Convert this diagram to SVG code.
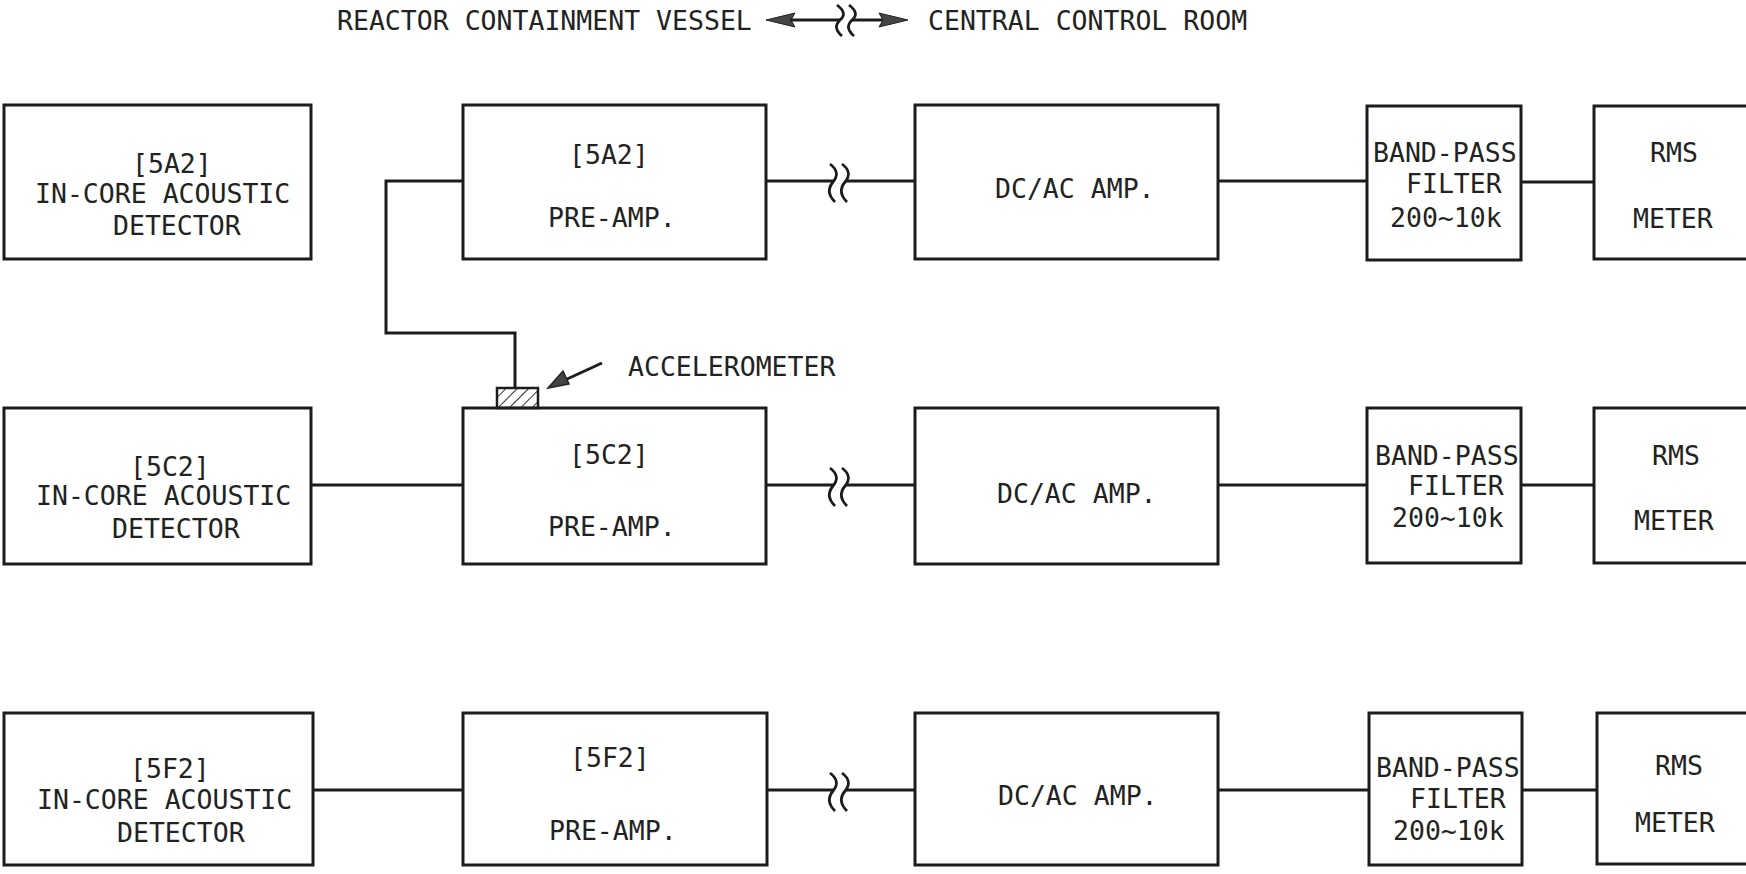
<svg xmlns="http://www.w3.org/2000/svg" width="1746" height="874" viewBox="0 0 1746 874">
<style>
.box{fill:none;stroke:#1c1c1c;stroke-width:3}
.w{fill:none;stroke:#1c1c1c;stroke-width:3}
.br{fill:none;stroke:#1c1c1c;stroke-width:2.8}
text{font-family:"DejaVu Sans Mono","Liberation Mono",monospace;font-size:26.5px;fill:#222}
</style>
<defs>
<pattern id="hatch" patternUnits="userSpaceOnUse" width="8" height="8" patternTransform="rotate(45)">
<line x1="0" y1="0" x2="0" y2="8" stroke="#333" stroke-width="2"/>
</pattern>
</defs>
<rect width="1746" height="874" fill="#fff"/>

<g id="title">
<text x="337" y="30">REACTOR CONTAINMENT VESSEL</text>
<text x="928" y="30">CENTRAL CONTROL ROOM</text>
<polygon points="766,20 795,13 791,20 795,27" fill="#444" stroke="#222" stroke-width="1"/>
<line x1="790" y1="20" x2="840" y2="20" class="w"/>
<path d="M837,5 C845,11 845,16 840,20 C835,25 835,30 842,36" class="br"/>
<path d="M849,5 C857,11 857,16 852,20 C847,25 847,30 854,36" class="br"/>
<line x1="852" y1="20" x2="884" y2="20" class="w"/>
<polygon points="908,20 879,13 883,20 879,27" fill="#444" stroke="#222" stroke-width="1"/>
</g>

<!-- Row 1 -->
<g id="det1"><rect class="box" x="4" y="105" width="307" height="154"/>
<text x="132" y="173">[5A2]</text><text x="35" y="203">IN-CORE ACOUSTIC</text><text x="113" y="235">DETECTOR</text></g>
<g id="pre1"><rect class="box" x="463" y="105" width="303" height="154"/>
<text x="569" y="164">[5A2]</text><text x="548" y="227">PRE-AMP.</text></g>
<g id="amp1"><rect class="box" x="915" y="105" width="303" height="154"/>
<text x="995" y="198">DC/AC AMP.</text></g>
<g id="bpf1"><rect class="box" x="1367" y="106" width="154" height="154"/>
<text x="1373" y="162">BAND-PASS</text><text x="1406" y="193">FILTER</text><text x="1390" y="227">200~10k</text></g>
<g id="rms1"><rect class="box" x="1594" y="106" width="170" height="153"/>
<text x="1650" y="162">RMS</text><text x="1633" y="228">METER</text></g>

<!-- Row 2 -->
<g id="det2"><rect class="box" x="4" y="408" width="307" height="156"/>
<text x="130" y="476">[5C2]</text><text x="36" y="505">IN-CORE ACOUSTIC</text><text x="112" y="538">DETECTOR</text></g>
<g id="pre2"><rect class="box" x="463" y="408" width="303" height="156"/>
<text x="569" y="464">[5C2]</text><text x="548" y="536">PRE-AMP.</text></g>
<g id="accel"><rect x="497" y="388" width="41" height="20" fill="url(#hatch)" stroke="#1c1c1c" stroke-width="2.5"/>
<text x="628" y="376">ACCELEROMETER</text></g>
<g id="amp2"><rect class="box" x="915" y="408" width="303" height="156"/>
<text x="997" y="503">DC/AC AMP.</text></g>
<g id="bpf2"><rect class="box" x="1367" y="408" width="154" height="155"/>
<text x="1375" y="465">BAND-PASS</text><text x="1408" y="495">FILTER</text><text x="1392" y="527">200~10k</text></g>
<g id="rms2"><rect class="box" x="1594" y="408" width="170" height="155"/>
<text x="1652" y="465">RMS</text><text x="1634" y="530">METER</text></g>

<!-- Row 3 -->
<g id="det3"><rect class="box" x="4" y="713" width="309" height="152"/>
<text x="130" y="778">[5F2]</text><text x="37" y="809">IN-CORE ACOUSTIC</text><text x="117" y="842">DETECTOR</text></g>
<g id="pre3"><rect class="box" x="463" y="713" width="304" height="152"/>
<text x="570" y="767">[5F2]</text><text x="549" y="840">PRE-AMP.</text></g>
<g id="amp3"><rect class="box" x="915" y="713" width="303" height="152"/>
<text x="998" y="805">DC/AC AMP.</text></g>
<g id="bpf3"><rect class="box" x="1369" y="713" width="153" height="152"/>
<text x="1376" y="777">BAND-PASS</text><text x="1410" y="808">FILTER</text><text x="1393" y="840">200~10k</text></g>
<g id="rms3"><rect class="box" x="1597" y="713" width="170" height="151"/>
<text x="1655" y="775">RMS</text><text x="1635" y="832">METER</text></g>

<g id="connectors">
<!-- row 1 -->
<polyline class="w" points="463,181 386,181 386,333 515,333 515,388"/>
<line class="w" x1="766" y1="181" x2="834" y2="181"/>
<path class="br" d="M830,164 C838,170 838,176 833,182 C828,188 828,195 835,202"/>
<path class="br" d="M842,164 C850,170 850,176 845,182 C840,188 840,195 847,202"/>
<line class="w" x1="846" y1="181" x2="915" y2="181"/>
<line class="w" x1="1218" y1="181" x2="1367" y2="181"/>
<line class="w" x1="1521" y1="182" x2="1594" y2="182"/>
<!-- accelerometer pointer -->
<line class="w" x1="602" y1="363" x2="565" y2="380"/>
<polygon points="548,388 563,371 569,384" fill="#444" stroke="#222" stroke-width="1.5"/>
<!-- row 2 -->
<line class="w" x1="311" y1="485" x2="463" y2="485"/>
<line class="w" x1="766" y1="485" x2="834" y2="485"/>
<path class="br" d="M830,468 C838,474 838,480 833,486 C828,492 828,499 835,506"/>
<path class="br" d="M842,468 C850,474 850,480 845,486 C840,492 840,499 847,506"/>
<line class="w" x1="846" y1="485" x2="915" y2="485"/>
<line class="w" x1="1218" y1="485" x2="1367" y2="485"/>
<line class="w" x1="1521" y1="485" x2="1594" y2="485"/>
<!-- row 3 -->
<line class="w" x1="313" y1="790" x2="463" y2="790"/>
<line class="w" x1="767" y1="790" x2="834" y2="790"/>
<path class="br" d="M830,773 C838,779 838,785 833,791 C828,797 828,804 835,811"/>
<path class="br" d="M842,773 C850,779 850,785 845,791 C840,797 840,804 847,811"/>
<line class="w" x1="846" y1="790" x2="915" y2="790"/>
<line class="w" x1="1218" y1="790" x2="1369" y2="790"/>
<line class="w" x1="1522" y1="790" x2="1597" y2="790"/>
</g>
</svg>
